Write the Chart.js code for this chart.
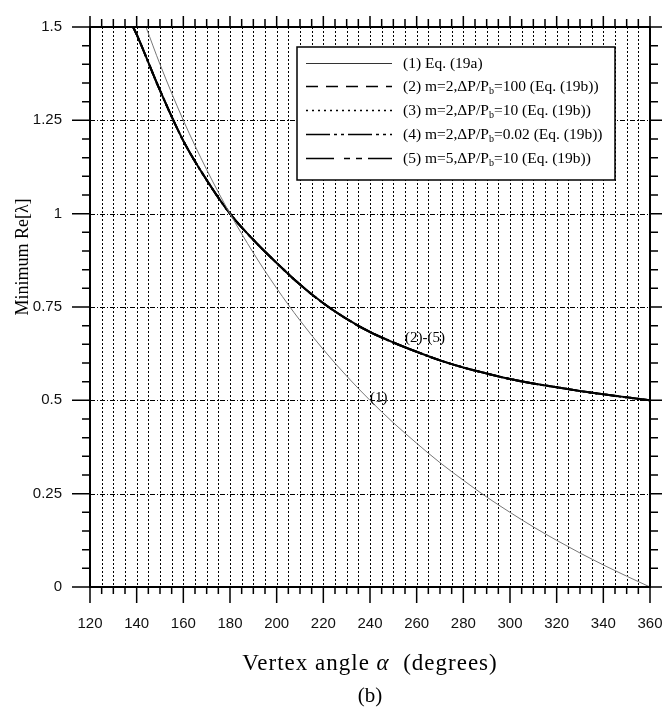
<!DOCTYPE html>
<html>
<head>
<meta charset="utf-8">
<script src="https://cdn.jsdelivr.net/npm/chart.js@4"></script>
<style>
  html, body { margin: 0; padding: 0; background: #fff; }
  #wrap { width: 662px; height: 711px; position: relative; }
</style>
</head>
<body>
<div id="wrap"><canvas id="vertexChart"></canvas></div>
<script>
// values
const angles1 = [144, 150, 160, 170, 180, 190, 200, 210, 220, 230, 240, 250, 260, 270, 280, 290, 300, 310, 320, 330, 340, 350, 360];
const eq19a = [1.5, 1.4, 1.25, 1.118, 1.0, 0.895, 0.8, 0.714, 0.636, 0.565, 0.5, 0.44, 0.385, 0.333, 0.286, 0.241, 0.2, 0.161, 0.125, 0.091, 0.059, 0.029, 0];

const angles2 = [138.5, 140, 150, 160, 170, 180, 190, 200, 210, 220, 230, 240, 250, 260, 270, 280, 290, 300, 310, 320, 330, 340, 350, 360];
// curves (2)-(5) fall on top of each other
const eq19b = [1.5, 1.48, 1.33, 1.195, 1.09, 1.0, 0.93, 0.868, 0.81, 0.76, 0.718, 0.683, 0.655, 0.63, 0.607, 0.588, 0.572, 0.557, 0.545, 0.535, 0.525, 0.516, 0.508, 0.5];

const xTicks = [120, 140, 160, 180, 200, 220, 240, 260, 280, 300, 320, 340, 360];
const yTicks = [0, 0.25, 0.5, 0.75, 1, 1.25, 1.5];

const legendLabels = [
    ["(1) Eq. (19a)"],
    ["(2) m=2,\u0394P/P", "b", "=100 (Eq. (19b))"],
    ["(3) m=2,\u0394P/P", "b", "=10 (Eq. (19b))"],
    ["(4) m=2,\u0394P/P", "b", "=0.02 (Eq. (19b))"],
    ["(5) m=5,\u0394P/P", "b", "=10 (Eq. (19b))"]
];

const serif = '"Liberation Serif", "Times New Roman", serif';
const sans = '"Liberation Sans", Arial, sans-serif';

function pts(xs, ys) {
    return xs.map((x, i) => ({ x: x, y: ys[i] }));
}

const styles = [
    { color: '#777', width: 1, dash: [] },
    { color: '#000', width: 2, dash: [12, 8] },
    { color: '#000', width: 2, dash: [2, 4] },
    { color: '#000', width: 2, dash: [24, 4, 3, 4, 3, 4] },
    { color: '#000', width: 2, dash: [28, 10, 6, 6, 6, 6] }
];

const datasets = [
    { label: legendLabels[0][0], data: pts(angles1, eq19a) },
    { label: 'c2', data: pts(angles2, eq19b) },
    { label: 'c3', data: pts(angles2, eq19b) },
    { label: 'c4', data: pts(angles2, eq19b) },
    { label: 'c5', data: pts(angles2, eq19b) }
].map((d, i) => Object.assign(d, {
    borderColor: styles[i].color,
    borderWidth: i == 0 ? 1 : 2,
    borderDash: i == 0 ? [] : (i == 4 ? [] : styles[i].dash),
    pointRadius: 0,
    fill: false,
    cubicInterpolationMode: 'monotone'
}));

// gridlines behind the curves
const gridPlugin = {
    id: 'grid',
    beforeDatasetsDraw(chart) {
        const ctx = chart.ctx;
        const a = chart.chartArea;
        const xs = chart.scales.x, ys = chart.scales.y;
        ctx.save();
        ctx.strokeStyle = '#000';
        ctx.lineWidth = 1;
        ctx.setLineDash([2, 2]);
        for (let v = 125; v < 360; v += 5) {
            const px = Math.round(xs.getPixelForValue(v)) + 0.5;
            ctx.beginPath(); ctx.moveTo(px, a.top); ctx.lineTo(px, a.bottom); ctx.stroke();
        }
        ctx.setLineDash([5, 2, 1, 2]);
        for (let v = 0.25; v < 1.5; v += 0.25) {
            const py = Math.round(ys.getPixelForValue(v)) + 0.5;
            ctx.beginPath(); ctx.moveTo(a.left, py); ctx.lineTo(a.right, py); ctx.stroke();
        }
        ctx.restore();
    },
    afterDatasetsDraw(chart) {
        const ctx = chart.ctx;
        const xs = chart.scales.x, ys = chart.scales.y;
        ctx.save();
        // curve labels
        ctx.fillStyle = '#000';
        ctx.font = '15px ' + serif;
        ctx.textBaseline = 'alphabetic';
        ctx.fillText('(2)-(5)', xs.getPixelForValue(255), ys.getPixelForValue(0.655));
        ctx.fillText('(1)', xs.getPixelForValue(240), ys.getPixelForValue(0.495));

        // legend box
        const bx = 297, by = 47, bw = 318, bh = 133;
        ctx.fillStyle = '#fff';
        ctx.fillRect(bx, by, bw, bh);
        ctx.strokeStyle = '#000';
        ctx.lineWidth = 1.5;
        ctx.strokeRect(bx, by, bw, bh);
        const rows = [63, 86, 110, 134, 158];
        rows.forEach((ry, i) => {
            const st = styles[i];
            ctx.strokeStyle = st.color == '#777' ? '#333' : '#000';
            ctx.lineWidth = i == 0 ? 1 : 1.6;
            ctx.setLineDash(st.dash);
            ctx.beginPath(); ctx.moveTo(306, ry + 0.5); ctx.lineTo(392, ry + 0.5); ctx.stroke();
            ctx.setLineDash([]);
            ctx.fillStyle = '#000';
            let tx = 403;
            const parts = legendLabels[i];
            ctx.font = '15.5px ' + serif;
            ctx.fillText(parts[0], tx, ry + 5);
            if (parts.length > 1) {
                tx += ctx.measureText(parts[0]).width;
                ctx.font = '10px ' + serif;
                ctx.fillText(parts[1], tx, ry + 8);
                tx += ctx.measureText(parts[1]).width;
                ctx.font = '15.5px ' + serif;
                ctx.fillText(parts[2], tx, ry + 5);
            }
        });
        ctx.restore();
    },
    afterDraw(chart) {
        const ctx = chart.ctx;
        const a = chart.chartArea;
        const xs = chart.scales.x, ys = chart.scales.y;
        ctx.save();
        ctx.strokeStyle = '#000';
        ctx.lineWidth = 2;
        ctx.strokeRect(a.left, a.top, a.right - a.left, a.bottom - a.top);

        // tick marks on all four sides, pointing out
        ctx.lineWidth = 1.5;
        for (let v = 120; v <= 360; v += 5) {
            const px = xs.getPixelForValue(v);
            const major = v % 20 == 0;
            ctx.beginPath();
            ctx.moveTo(px, a.bottom); ctx.lineTo(px, a.bottom + (major ? 16 : 7));
            ctx.moveTo(px, a.top); ctx.lineTo(px, a.top - (major ? 11 : 8));
            ctx.stroke();
        }
        for (let k = 0; k <= 30; k++) {
            const v = k * 0.05;
            const py = ys.getPixelForValue(v);
            const major = k % 5 == 0;
            ctx.beginPath();
            ctx.moveTo(a.left, py); ctx.lineTo(a.left - (major ? 18 : 8), py);
            ctx.moveTo(a.right, py); ctx.lineTo(a.right + (major ? 18 : 8), py);
            ctx.stroke();
        }

        // axis titles
        ctx.fillStyle = '#000';
        ctx.textBaseline = 'alphabetic';
        ctx.save();
        ctx.translate(28, 257);
        ctx.rotate(-Math.PI / 2);
        ctx.font = '18px ' + serif;
        ctx.textAlign = 'center';
        ctx.fillText('Minimum Re[\u03bb]', 0, 0);
        ctx.restore();

        const cx = (a.left + a.right) / 2;
        const t1 = 'Vertex angle ', t2 = '\u03b1', t3 = '  (degrees)';
        ctx.letterSpacing = '1px';
        ctx.font = '23px ' + serif;
        const w1 = ctx.measureText(t1).width, w3 = ctx.measureText(t3).width;
        ctx.font = 'italic 23px ' + serif;
        const w2 = ctx.measureText(t2).width;
        let tx = cx - (w1 + w2 + w3) / 2;
        ctx.font = '23px ' + serif;
        ctx.fillText(t1, tx, 670);
        ctx.font = 'italic 23px ' + serif;
        ctx.fillText(t2, tx + w1, 670);
        ctx.font = '23px ' + serif;
        ctx.fillText(t3, tx + w1 + w2, 670);
        ctx.letterSpacing = '0px';

        ctx.font = '21px ' + serif;
        ctx.textAlign = 'center';
        ctx.fillText('(b)', cx, 702);
        ctx.restore();
    }
};

const vertexChart = new Chart(document.getElementById("vertexChart"), {
    type: 'line',
    data: { datasets: datasets },
    options: {
        responsive: true,
        maintainAspectRatio: false,
        animation: false,
        layout: { padding: { top: 27, right: 12, left: 0, bottom: 0 } },
        plugins: { legend: { display: false }, tooltip: { enabled: false } },
        scales: {
            x: {
                type: 'linear',
                min: 120,
                max: 360,
                afterFit: (s) => { s.height = 124; s.paddingLeft = 0; s.paddingRight = 0; },
                afterBuildTicks: (s) => { s.ticks = xTicks.map(v => ({ value: v })); },
                grid: { display: false, drawTicks: false },
                border: { display: false },
                ticks: { padding: 28, color: '#111', font: { family: sans, size: 15 }, maxRotation: 0, callback: (v) => String(v) }
            },
            y: {
                min: 0,
                max: 1.5,
                afterFit: (s) => { s.width = 90; s.paddingTop = 0; s.paddingBottom = 0; },
                afterBuildTicks: (s) => { s.ticks = yTicks.map(v => ({ value: v })); },
                grid: { display: false, drawTicks: false },
                border: { display: false },
                ticks: { padding: 28, color: '#111', font: { family: sans, size: 15 }, callback: (v) => String(v) }
            }
        }
    },
    plugins: [gridPlugin]
});
</script>
</body>
</html>
